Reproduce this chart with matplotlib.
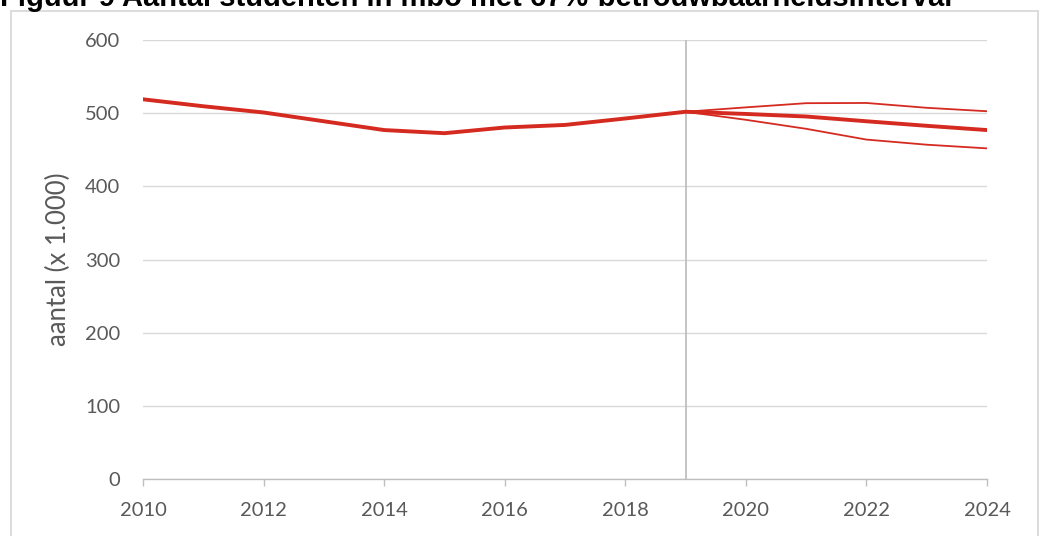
import matplotlib
matplotlib.use("Agg")
import matplotlib.pyplot as plt
from matplotlib import font_manager
from matplotlib.patches import Rectangle

years = list(range(2010, 2025))
main_values = [519, 509.5, 501, 489, 477, 472.7, 480.5, 484, 492.8, 502, 499, 495.5, 489, 482.8, 477]
ci_years = list(range(2019, 2025))
upper_values = [502, 508, 513.7, 514, 507.4, 502.7]
lower_values = [502, 491, 478.7, 464, 457, 452]
forecast_start = 2019
y_ticks = [0, 100, 200, 300, 400, 500, 600]
x_ticks = [2010, 2012, 2014, 2016, 2018, 2020, 2022, 2024]
title = "Figuur 9 Aantal studenten in mbo met 67%-betrouwbaarheidsinterval"
ylabel = "aantal (x 1.000)"

names = {f.name for f in font_manager.fontManager.ttflist}
title_font = "Liberation Sans Narrow" if "Liberation Sans Narrow" in names else "Liberation Sans"
body_font = "Lato" if "Lato" in names else "DejaVu Sans"

W, H = 1042, 536
fig = plt.figure(figsize=(W / 100, H / 100), dpi=100)
ax = fig.add_axes([143 / W, 1 - 479.3 / H, (987 - 143) / W, (479.3 - 40) / H])

red = "#d52a1f"
ax.plot(years, main_values, color=red, lw=2.8, solid_joinstyle="round", zorder=4)
ax.plot(ci_years, upper_values, color=red, lw=1.3, zorder=3)
ax.plot(ci_years, lower_values, color=red, lw=1.3, zorder=3)
ax.axvline(forecast_start, color="#bfbfbf", lw=1.3, zorder=2)

ax.set_xlim(2010, 2024)
ax.set_ylim(0, 600)
ax.set_yticks(y_ticks)
ax.set_xticks(x_ticks)
ax.grid(axis="y", color="#d9d9d9", lw=1.0)
ax.set_axisbelow(True)
for s in ["top", "right", "left"]:
    ax.spines[s].set_visible(False)
ax.spines["bottom"].set_color("#bfbfbf")
ax.spines["bottom"].set_linewidth(1.0)
ax.tick_params(axis="y", length=0, pad=16.5, labelsize=14.5, labelcolor="#595959")
ax.tick_params(axis="x", direction="out", length=5, width=1.0, color="#bfbfbf",
               pad=11, labelsize=14.5, labelcolor="#595959")
for lab in ax.get_xticklabels() + ax.get_yticklabels():
    lab.set_fontfamily(body_font)
ax.set_ylabel(ylabel, fontsize=18.5, color="#595959", family=body_font)
ax.yaxis.set_label_coords((71 - 143) / (987 - 143), 0.5)

fig.patches.append(Rectangle((11 / W, -0.1), (1038 - 11) / W, 1.1 - 11 / H,
                             transform=fig.transFigure, fill=False,
                             edgecolor="#d9d9d9", lw=1.3))
fig.text(0 / W, 1 - 6 / H, title, fontsize=21, fontweight="bold",
         family=title_font, color="#000000", va="baseline", ha="left")

fig.savefig("out.png", dpi=100)
